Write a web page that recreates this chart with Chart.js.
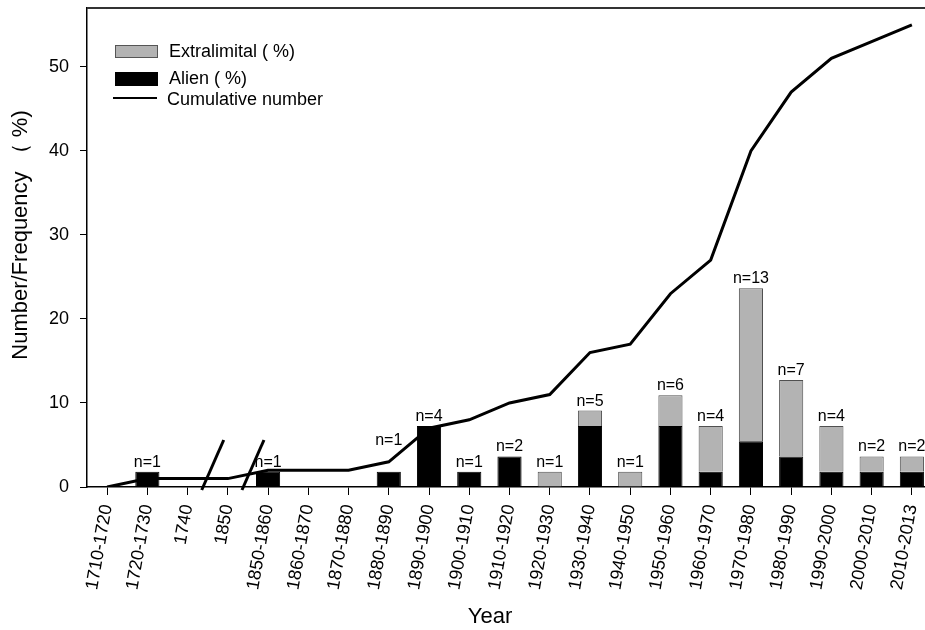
<!DOCTYPE html>
<html>
<head>
<meta charset="utf-8">
<script src="https://cdn.jsdelivr.net/npm/chart.js@4.4.0/dist/chart.umd.min.js"></script>
<style>
  html, body { margin: 0; padding: 0; overflow: hidden; background: #fff; }
  #wrap { width: 940px; height: 630px; }
</style>
</head>
<body>
<div id="wrap"><canvas id="c" width="940" height="630"></canvas></div>
<script>
// Time periods (the axis is broken between 1740 and 1850)
const periods = ['1710-1720', '1720-1730', '1740', '1850', '1850-1860', '1860-1870', '1870-1880',
  '1880-1890', '1890-1900', '1900-1910', '1910-1920', '1920-1930', '1930-1940', '1940-1950',
  '1950-1960', '1960-1970', '1970-1980', '1980-1990', '1990-2000', '2000-2010', '2010-2013'];

// Number of records per period
const alienCounts =        [0, 1, 0, 0, 1, 0, 0, 1, 4, 1, 2, 0, 4, 0, 4, 1, 3, 2, 1, 1, 1];
const extralimitalCounts = [0, 0, 0, 0, 0, 0, 0, 0, 0, 0, 0, 1, 1, 1, 2, 3, 10, 5, 3, 1, 1];

// Running total of records
const cumulativeNumber = [0, 1, 1, 1, 2, 2, 2, 3, 7, 8, 10, 11, 16, 17, 23, 27, 40, 47, 51, 53, 55];

const yTicks = [0, 10, 20, 30, 40, 50];
const axisBreaksAfter = ['1740', '1850'];

const totalRecords = cumulativeNumber[cumulativeNumber.length - 1];
const toPercent = n => n / totalRecords * 100;

const FONT = '"Liberation Sans", Arial, Helvetica, sans-serif';
const GREY = '#b3b3b3';

const decorations = {
  id: 'decorations',
  afterDatasetsDraw(chart) {
    const { ctx, scales: { x, y } } = chart;
    // n= labels above each bar
    ctx.save();
    ctx.fillStyle = '#000';
    ctx.font = '16px ' + FONT;
    ctx.textAlign = 'center';
    ctx.textBaseline = 'alphabetic';
    periods.forEach((p, i) => {
      const n = alienCounts[i] + extralimitalCounts[i];
      if (!n) return;
      const px = x.getPixelForValue(i);
      const top = y.getPixelForValue(toPercent(n));
      const lineY = y.getPixelForValue(cumulativeNumber[i]);
      let base = top - 5;
      if (lineY < top - 5 && lineY > top - 24) base = lineY - 17;
      ctx.fillText('n=' + n, px, base);
    });
    ctx.restore();
  },
  afterDraw(chart) {
    const { ctx, chartArea: a, scales: { x, y } } = chart;
    ctx.save();
    // top frame line
    ctx.strokeStyle = '#333';
    ctx.lineWidth = 2;
    ctx.beginPath();
    ctx.moveTo(a.left, a.top);
    ctx.lineTo(a.right, a.top);
    ctx.stroke();

    // axis break marks
    ctx.strokeStyle = '#000';
    ctx.lineWidth = 3;
    axisBreaksAfter.forEach(lab => {
      const i = periods.indexOf(lab);
      const mid = (x.getPixelForValue(i) + x.getPixelForValue(i + 1)) / 2;
      const b = y.getPixelForValue(0);
      ctx.beginPath();
      ctx.moveTo(mid - 6, b + 3);
      ctx.lineTo(mid + 16, b - 47);
      ctx.stroke();
    });

    // legend
    const ds = chart.data.datasets;
    const lx = a.left + 28, ly = a.top + 37;
    ctx.font = '18px ' + FONT;
    ctx.textBaseline = 'middle';
    ctx.textAlign = 'left';
    ctx.lineWidth = 1;
    ctx.fillStyle = GREY; ctx.strokeStyle = '#555';
    ctx.fillRect(lx, ly, 43, 13); ctx.strokeRect(lx + 0.5, ly + 0.5, 42, 12);
    ctx.fillStyle = '#000';
    ctx.fillText(ds[1].label, lx + 54, ly + 7);
    ctx.fillRect(lx, ly + 27, 43, 14);
    ctx.fillText(ds[0].label, lx + 54, ly + 34);
    ctx.strokeStyle = '#000';
    ctx.lineWidth = 2;
    ctx.beginPath();
    ctx.moveTo(lx - 2, ly + 53);
    ctx.lineTo(lx + 42, ly + 53);
    ctx.stroke();
    ctx.fillText(ds[2].label, lx + 52, ly + 55);

    // axis titles
    ctx.font = '22px ' + FONT;
    ctx.textAlign = 'center';
    ctx.fillText('Year', 490, 617);
    ctx.translate(21, 235);
    ctx.rotate(-Math.PI / 2);
    ctx.font = '22px ' + FONT;
    ctx.fillText('Number/Frequency \uFF08 %)', 0, 0);
    ctx.restore();
  }
};

new Chart(document.getElementById('c'), {
  data: {
    labels: periods,
    datasets: [
      {
        type: 'bar', label: 'Alien ( %)', data: alienCounts.map(toPercent),
        backgroundColor: '#000', borderColor: '#000', borderWidth: 1,
        stack: 'share', order: 1, barPercentage: 0.6, categoryPercentage: 1
      },
      {
        type: 'bar', label: 'Extralimital ( %)', data: extralimitalCounts.map(toPercent),
        backgroundColor: GREY, borderColor: '#505050', borderWidth: 1,
        stack: 'share', order: 1, barPercentage: 0.6, categoryPercentage: 1
      },
      {
        type: 'line', label: 'Cumulative number', data: cumulativeNumber,
        borderColor: '#000', borderWidth: 3, pointRadius: 0, tension: 0,
        fill: false, stack: 'cumulative', order: 0
      }
    ]
  },
  options: {
    responsive: false,
    animation: false,
    devicePixelRatio: 1,
    layout: { padding: { left: 0, top: 8, right: 8, bottom: 0 } },
    plugins: { legend: { display: false }, tooltip: { enabled: false } },
    scales: {
      x: {
        stacked: true,
        offset: true,
        afterFit: s => { s.height = 143; s.paddingLeft = 0; s.paddingRight = 0; },
        grid: { offset: false, drawOnChartArea: false, drawTicks: true, tickLength: 8, color: '#000', lineWidth: 1 },
        border: { display: true, color: '#000', width: 1.5 },
        ticks: { color: '#000', font: { family: FONT, size: 18 }, minRotation: 80, maxRotation: 80, autoSkip: false, padding: 8 }
      },
      y: {
        stacked: true,
        min: 0, max: 57,
        afterFit: s => { s.width = 87; s.paddingTop = 0; s.paddingBottom = 0; },
        afterBuildTicks: s => { s.ticks = yTicks.map(v => ({ value: v })); },
        grid: { drawOnChartArea: false, drawTicks: true, tickLength: 7, color: '#000', lineWidth: 1 },
        border: { display: true, color: '#000', width: 1.5 },
        ticks: { color: '#000', font: { family: FONT, size: 18 }, padding: 11 }
      }
    }
  },
  plugins: [decorations]
});
</script>
</body>
</html>
